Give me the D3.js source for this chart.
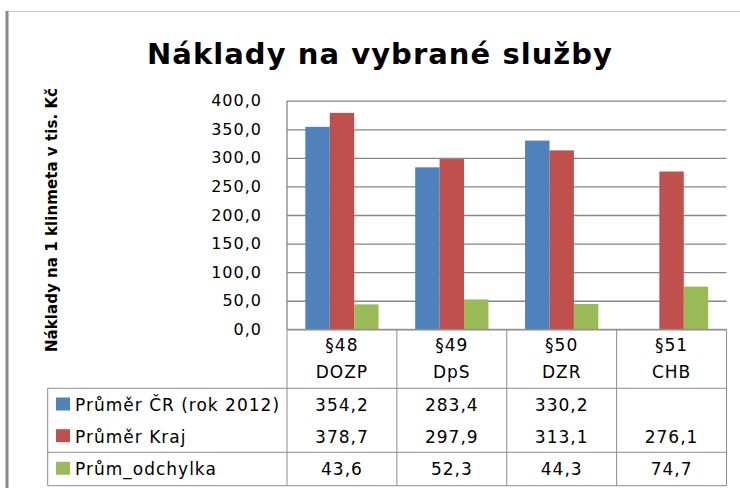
<!DOCTYPE html>
<html>
<head>
<meta charset="utf-8">
<script src="https://cdn.jsdelivr.net/npm/d3@7"></script>
<style>
  html, body { margin: 0; padding: 0; background: #fff; }
  svg { display: block; }
  text { font-family: "DejaVu Sans", sans-serif; fill: #000; }
</style>
</head>
<body>
<svg id="chart" width="740" height="488"></svg>
<script>
// ---- data ----
const title = "Náklady na vybrané služby";
const yTitle = "Náklady na 1 klinmeta v tis. Kč";
const categoryCodes = ["§48", "§49", "§50", "§51"];
const categoryNames = ["DOZP", "DpS", "DZR", "CHB"];
const seriesNames = ["Průměr ČR (rok 2012)", "Průměr Kraj", "Prům_odchylka"];
const seriesColors = ["#4F81BD", "#C0504D", "#9BBB59"];
const prumerCR = [354.2, 283.4, 330.2, null];
const prumerKraj = [378.7, 297.9, 313.1, 276.1];
const prumOdchylka = [43.6, 52.3, 44.3, 74.7];
const yTicks = [0, 50, 100, 150, 200, 250, 300, 350, 400];

const seriesValues = [prumerCR, prumerKraj, prumOdchylka];

// ---- layout ----
const W = 740, H = 488;
const plot = { left: 287, right: 726.5, top: 100.7, bottom: 329.3 };
const table = { legendLeft: 47.7, headerBottom: 388.3, rowLines: [452.3], bottom: 485.7,
                rowCenters: [405, 436.7, 469.3], headLine1: 345, headLine2: 371.7 };
const gridColor = "#878787";
const tableColor = "#8c8c8c";

const loc = d3.formatLocale({ decimal: ",", thousands: " ", grouping: [3], currency: ["", " Kč"] });
const fmt = loc.format(".1f");

// spread letters so a text covers a target width
function fitWidth(sel, target) {
  const node = sel.node();
  const n = sel.text().length;
  const w = node.getComputedTextLength();
  sel.style("letter-spacing", ((target - w) / (n - 1)) + "px");
}

const svg = d3.select("#chart");

// outer chart border (top light line, left darker line)
svg.append("line").attr("x1", 5).attr("x2", W).attr("y1", 11.5).attr("y2", 11.5)
  .attr("stroke", "#c8c8c8").attr("stroke-width", 1);
svg.append("rect").attr("x", 5.5).attr("y", 11).attr("width", 3).attr("height", H - 11)
  .attr("fill", "#8a8a8a");

// scales
const x0 = d3.scaleBand().domain(d3.range(categoryCodes.length))
  .range([plot.left, plot.right]).padding(0);
const step = x0.bandwidth();
const gapHalf = step * 0.75 / 4.5;
const x1 = d3.scaleBand().domain(d3.range(seriesNames.length))
  .range([gapHalf, step - gapHalf]).padding(0);
const y = d3.scaleLinear().domain([0, 400]).range([plot.bottom, plot.top]);

// title (left edge 147, right edge 612)
const tTitle = svg.append("text").attr("x", 147).attr("y", 64)
  .style("font-family", "'DejaVu Sans', sans-serif").style("font-weight", "bold")
  .style("font-size", "29px").text(title);
fitWidth(tTitle, 465);

// gridlines
const yAxis = d3.axisLeft(y).tickValues(yTicks).tickSize(-(plot.right - plot.left)).tickFormat(fmt).tickPadding(25);
const gAxis = svg.append("g").attr("transform", `translate(${plot.left},0)`).call(yAxis);
gAxis.select(".domain").remove();
gAxis.selectAll(".tick line").attr("stroke", gridColor).attr("stroke-width", 1.3);
gAxis.selectAll(".tick text").attr("fill", "#000")
  .style("font-size", "16px").style("letter-spacing", "1px")
  .style("font-family", "'DejaVu Sans', sans-serif");

// bars
const groups = svg.append("g").selectAll("g").data(categoryCodes).join("g")
  .attr("transform", (d, i) => `translate(${x0(i)},0)`);
groups.selectAll("rect")
  .data((d, i) => seriesValues.map((s, k) => ({ k, v: s[i] })).filter(o => o.v != null))
  .join("rect")
  .attr("x", o => x1(o.k)).attr("width", x1.bandwidth())
  .attr("y", o => y(o.v)).attr("height", o => y(0) - y(o.v))
  .attr("fill", o => seriesColors[o.k]);

// left axis line
svg.append("line").attr("x1", plot.left).attr("x2", plot.left)
  .attr("y1", plot.top).attr("y2", plot.bottom).attr("stroke", gridColor).attr("stroke-width", 1.3);

// y title (spans y 352 -> 88)
const tY = svg.append("text")
  .attr("transform", `translate(57,352) rotate(-90)`)
  .style("font-family", "'DejaVu Sans', sans-serif").style("font-weight", "bold")
  .style("font-size", "15px")
  .text(yTitle);
fitWidth(tY, 264);

// ---- data table ----
const tg = svg.append("g");
const line = (x1_, y1_, x2_, y2_) => tg.append("line").attr("x1", x1_).attr("y1", y1_)
  .attr("x2", x2_).attr("y2", y2_).attr("stroke", tableColor).attr("stroke-width", 1);
// horizontal lines
line(plot.left, plot.bottom, plot.right, plot.bottom);
line(table.legendLeft, table.headerBottom, plot.right, table.headerBottom);
table.rowLines.forEach(yy => line(table.legendLeft, yy, plot.right, yy));
line(table.legendLeft, table.bottom, plot.right, table.bottom);
// vertical lines
d3.range(categoryCodes.length + 1).forEach(i => {
  const xx = i < categoryCodes.length ? x0(i) : plot.right;
  line(xx, plot.bottom, xx, table.bottom);
});
line(table.legendLeft, table.headerBottom, table.legendLeft, table.bottom);

// header labels
const txtStyle = sel => sel.style("font-size", "17px").style("letter-spacing", "1px");
categoryCodes.forEach((c, i) => {
  const cx = x0(i) + step / 2;
  tg.append("text").attr("x", cx).attr("y", table.headLine1).attr("dy", "0.36em")
    .attr("text-anchor", "middle").call(txtStyle).text(c);
  tg.append("text").attr("x", cx).attr("y", table.headLine2).attr("dy", "0.36em")
    .attr("text-anchor", "middle").call(txtStyle).text(categoryNames[i]);
});

// legend rows and values
seriesNames.forEach((name, k) => {
  const cy = table.rowCenters[k];
  tg.append("rect").attr("x", 56).attr("y", cy - 7.5).attr("width", 14).attr("height", 13)
    .attr("fill", seriesColors[k]);
  tg.append("text").attr("x", 75).attr("y", cy).attr("dy", "0.36em").call(txtStyle).text(name);
  seriesValues[k].forEach((v, i) => {
    if (v == null) return;
    tg.append("text").attr("x", x0(i) + step / 2).attr("y", cy).attr("dy", "0.36em")
      .attr("text-anchor", "middle").call(txtStyle).text(fmt(v));
  });
});
</script>
</body>
</html>
